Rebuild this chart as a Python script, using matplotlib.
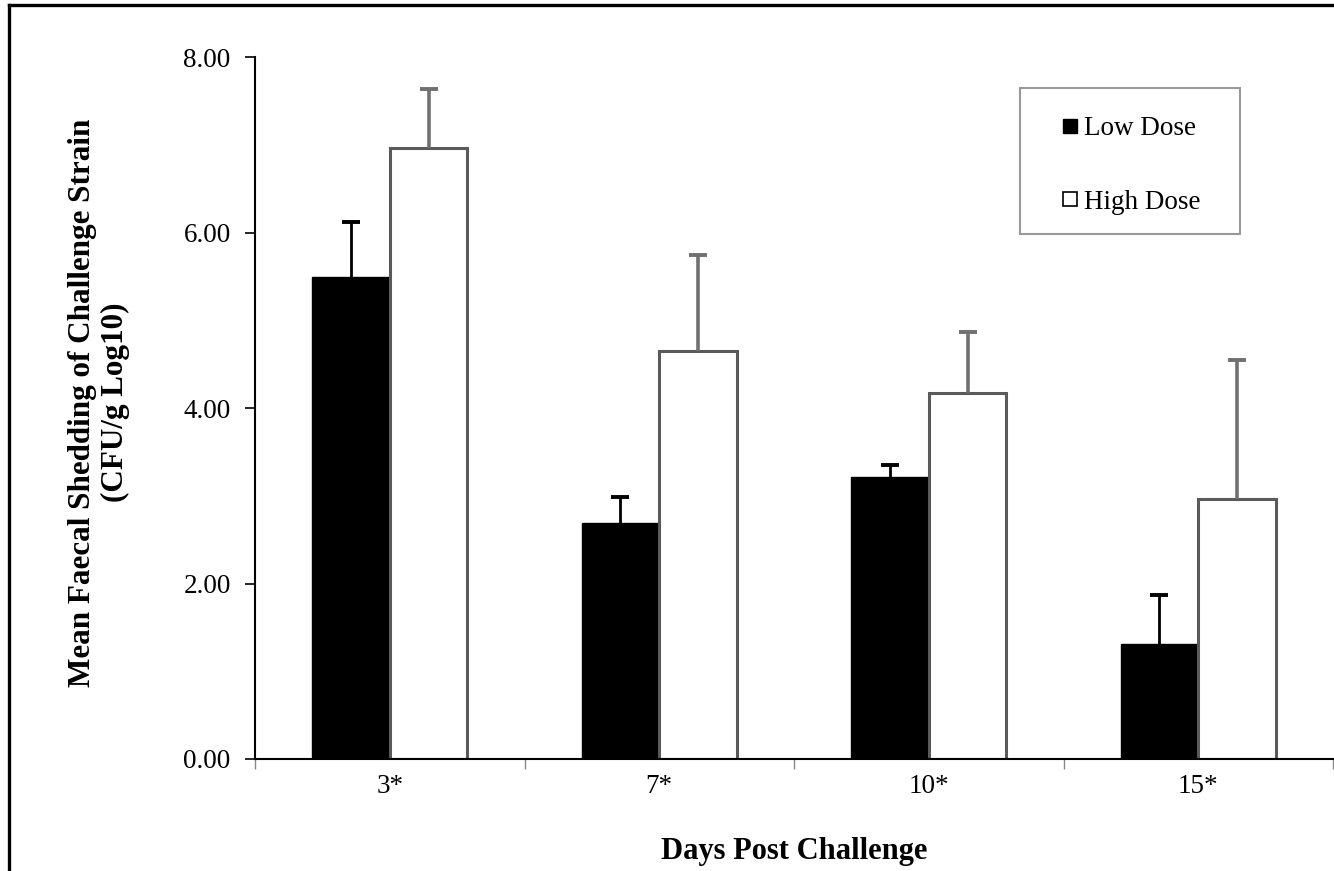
import matplotlib
matplotlib.use("Agg")
import matplotlib.pyplot as plt
import numpy as np
from matplotlib.lines import Line2D
from matplotlib.patches import Rectangle

plt.rcParams['font.family'] = ['Liberation Serif', 'DejaVu Serif']

categories = ["3*", "7*", "10*", "15*"]
low_dose = [5.49, 2.69, 3.21, 1.31]
low_err = [0.63, 0.30, 0.14, 0.56]
high_dose = [6.96, 4.65, 4.17, 2.96]
high_err = [0.68, 1.09, 0.70, 1.59]
yticks = [0.0, 2.0, 4.0, 6.0, 8.0]

W, H = 1334, 871
fig = plt.figure(figsize=(W / 100, H / 100), dpi=100)
ax = fig.add_axes([255 / W, 1 - 759 / H, (1333 - 255) / W, (759 - 57) / H])

x = np.arange(len(categories))
bw = 0.288
b1 = ax.bar(x - bw / 2, low_dose, bw, color='black', edgecolor='black', linewidth=1.0,
            yerr=[np.zeros(len(low_err)), low_err],
            error_kw=dict(ecolor='black', elinewidth=2.0, capsize=6.5, capthick=2.8), zorder=2)
b2 = ax.bar(x + bw / 2, high_dose, bw, color='white', edgecolor='#5a5a5a', linewidth=2.2,
            yerr=[np.zeros(len(high_err)), high_err],
            error_kw=dict(ecolor='#707070', elinewidth=2.6, capsize=6.5, capthick=2.8), zorder=2)
for b in (b1, b2):
    caps = b.errorbar.lines[1]
    if len(caps) > 0:
        caps[0].set_visible(False)

ax.set_xlim(-0.5, len(categories) - 0.5)
ax.set_ylim(0, 8)
ax.set_yticks(yticks)
ax.set_yticklabels([f"{v:.2f}" for v in yticks])
ax.set_xticks(np.arange(-0.5, len(categories), 1.0))
ax.set_xticklabels([])
ax.set_xticks(x, minor=True)
ax.set_xticklabels(categories, minor=True)
ax.tick_params(axis='x', which='major', length=7, width=1.0, color='#888888', direction='out')
ax.tick_params(axis='x', which='minor', length=0, pad=11, labelsize=19.5)
ax.tick_params(axis='y', length=7, width=1.2, direction='out', pad=10.5, labelsize=19.5)

for s in ['top', 'right']:
    ax.spines[s].set_visible(False)
ax.spines['left'].set_linewidth(1.5)
ax.spines['bottom'].set_linewidth(1.5)

ax.set_xlabel("Days Post Challenge", fontsize=22, fontweight='bold', labelpad=27)
ax.set_ylabel("Mean Faecal Shedding of Challenge Strain\n(CFU/g Log10)",
              fontsize=22.4, fontweight='bold', linespacing=1.18)
ax.yaxis.set_label_coords(-0.116, 0.508)

handles = [Line2D([], [], marker='s', linestyle='none', markersize=10,
                  markerfacecolor='black', markeredgecolor='black', markeredgewidth=1),
           Line2D([], [], marker='s', linestyle='none', markersize=10,
                  markerfacecolor='white', markeredgecolor='black', markeredgewidth=1.2)]
leg = ax.legend(handles, ["Low Dose", "High Dose"], loc='upper left',
                bbox_to_anchor=(1035 / W, 1 - 89 / H), bbox_transform=fig.transFigure,
                frameon=False, handlelength=0.55,
                handletextpad=0.25, labelspacing=1.8, borderpad=1.0, borderaxespad=0,
                prop={'size': 19.5})

fig.add_artist(Rectangle((1020 / W, 1 - 234 / H), 220 / W, 146 / H, transform=fig.transFigure,
                         facecolor='none', edgecolor='#999999', linewidth=1.5))

# outer frame (top and left visible)
fig.add_artist(Line2D([9 / W, 1.0], [1 - 5 / H, 1 - 5 / H], transform=fig.transFigure,
                      color='black', linewidth=2.4))
fig.add_artist(Line2D([9 / W, 9 / W], [0, 1 - 5 / H], transform=fig.transFigure,
                      color='black', linewidth=2.4))

fig.savefig("out.png", dpi=100)
